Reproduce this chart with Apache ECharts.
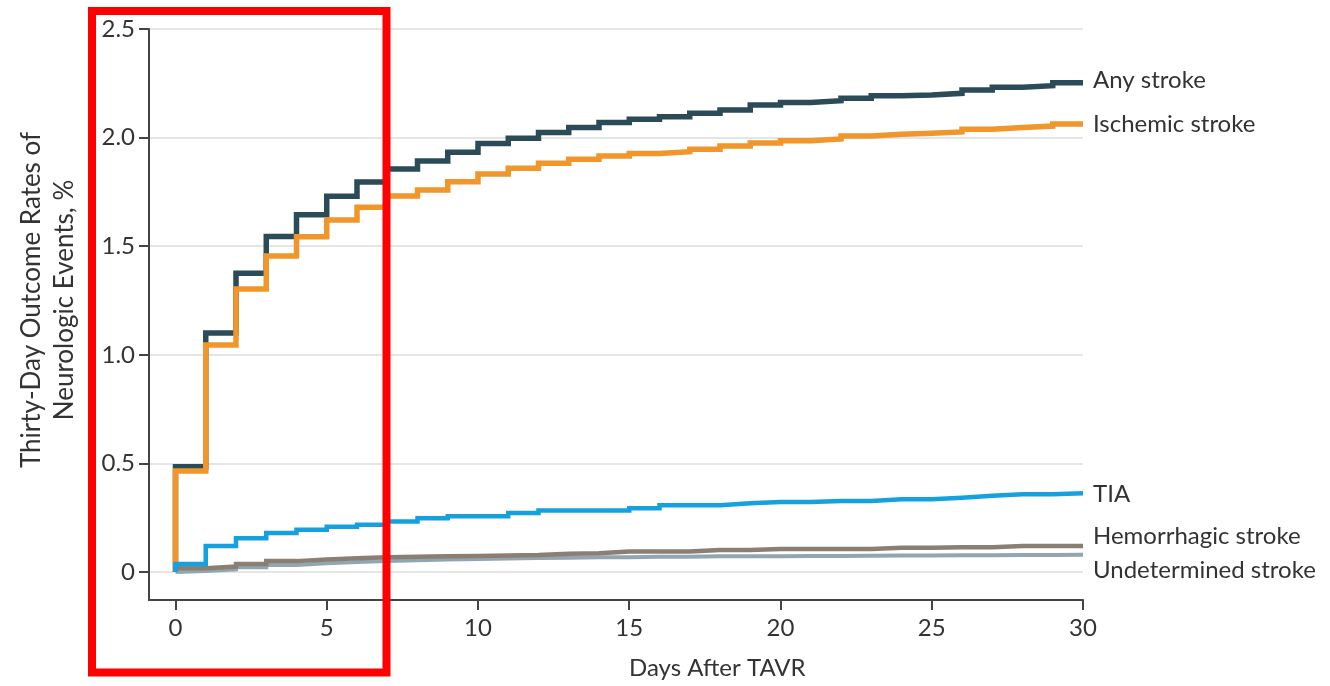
<!DOCTYPE html>
<html>
<head>
<meta charset="utf-8">
<script src="https://cdn.jsdelivr.net/npm/echarts@6/dist/echarts.min.js"></script>
<style>html,body{margin:0;padding:0;background:#fff}#c{width:1330px;height:686px}</style>
</head>
<body>
<div id="c"></div>
<script>
// Values per day interval: index i = value from day i to day i+1 (Kaplan-Meier style steps)
const anyStroke = [0.485,1.100,1.375,1.545,1.645,1.730,1.795,1.855,1.892,1.932,1.973,1.997,2.023,2.047,2.069,2.084,2.096,2.112,2.127,2.150,2.162,2.170,2.181,2.193,2.196,2.204,2.219,2.232,2.239,2.253];
const ischemic  = [0.465,1.045,1.303,1.455,1.544,1.621,1.679,1.731,1.759,1.797,1.832,1.859,1.882,1.900,1.915,1.927,1.935,1.946,1.961,1.975,1.986,1.994,2.007,2.015,2.020,2.026,2.038,2.046,2.053,2.063];
const tia       = [0.037,0.120,0.155,0.180,0.195,0.208,0.218,0.232,0.247,0.257,0.257,0.272,0.283,0.283,0.283,0.293,0.307,0.307,0.316,0.322,0.322,0.327,0.327,0.335,0.335,0.342,0.351,0.358,0.358,0.362];
const hemorrhagic = [0.017,0.025,0.037,0.050,0.057,0.063,0.068,0.070,0.072,0.074,0.076,0.078,0.084,0.086,0.094,0.094,0.094,0.101,0.101,0.106,0.106,0.106,0.106,0.112,0.112,0.114,0.114,0.120,0.120,0.120];
const undetermined = [0.005,0.012,0.022,0.032,0.040,0.046,0.051,0.054,0.057,0.060,0.062,0.064,0.066,0.068,0.068,0.070,0.070,0.072,0.072,0.073,0.074,0.074,0.075,0.076,0.076,0.077,0.077,0.078,0.078,0.079];
const xTicks = [0,5,10,15,20,25,30];
const yTicks = [0,0.5,1.0,1.5,2.0,2.5];
const yTickLabels = ['0','0.5','1.0','1.5','2.0','2.5'];

function steps(vals){
  const d=[[0,0]];
  vals.forEach((v,i)=>d.push([i,v]));
  d.push([vals.length, vals[vals.length-1]]);
  return d;
}
const FONT='Lato';
const TXT='#333333';
function mk(name,vals,color,width,offset,z){
  return {
    name:name,type:'line',step:'end',data:steps(vals),symbol:'none',z:z,
    lineStyle:{color:color,width:width,cap:'butt',join:'miter'},
    emphasis:{disabled:true},
    endLabel:{show:true,formatter:name,distance:10,offset:offset,color:TXT,fontFamily:FONT,fontSize:24}
  };
}
const chart=echarts.init(document.getElementById('c'),null,{renderer:'canvas'});
chart.setOption({
  animation:false,
  backgroundColor:'#fff',
  grid:{left:149,right:247,top:29,bottom:86},
  xAxis:{type:'value',min:-0.876,max:30,
    axisLine:{show:true,onZero:false,lineStyle:{color:'#444',width:2}},
    axisTick:{show:true,customValues:xTicks,length:10,lineStyle:{color:'#444',width:2}},
    axisLabel:{customValues:xTicks,color:TXT,fontFamily:FONT,fontSize:24,margin:16},
    splitLine:{show:false}
  },
  yAxis:{type:'value',min:-0.129,max:2.5,
    axisLine:{show:true,onZero:false,lineStyle:{color:'#444',width:2}},
    axisTick:{show:true,customValues:yTicks,length:10,lineStyle:{color:'#444',width:2}},
    axisLabel:{customValues:yTicks,color:TXT,fontFamily:FONT,fontSize:24,margin:14,
      formatter:function(v){const i=yTicks.indexOf(Math.round(v*10)/10);return i>=0?yTickLabels[i]:'';}},
    splitLine:{show:true,lineStyle:{color:'#dcdcdc',width:1.5}}
  },
  series:[
    mk('Any stroke',anyStroke,'#2c4b58',5.5,[0,-2],3),
    mk('Ischemic stroke',ischemic,'#f0962a',5.5,[0,0],4),
    mk('Undetermined stroke',undetermined,'#91a6b1',4,[0,15],5),
    mk('Hemorrhagic stroke',hemorrhagic,'#8a7f72',4.5,[0,-10],6),
    mk('TIA',tia,'#15a1de',4.5,[0,1],7)
  ],
  graphic:[
    {type:'text',left:629,top:656,style:{text:'Days After TAVR',fill:TXT,font:'24px '+FONT,textAlign:'center'}},
    {type:'text',rotation:Math.PI/2,x:15,y:300,style:{text:'Thirty-Day Outcome Rates of\nNeurologic Events, %',fill:TXT,font:'26px '+FONT,textAlign:'center',textVerticalAlign:'top',lineHeight:33}},
    {type:'rect',shape:{x:92,y:11,width:294.5,height:661.5},style:{fill:'none',stroke:'#ff0000',lineWidth:8},z:100}
  ]
});
</script>
</body>
</html>
